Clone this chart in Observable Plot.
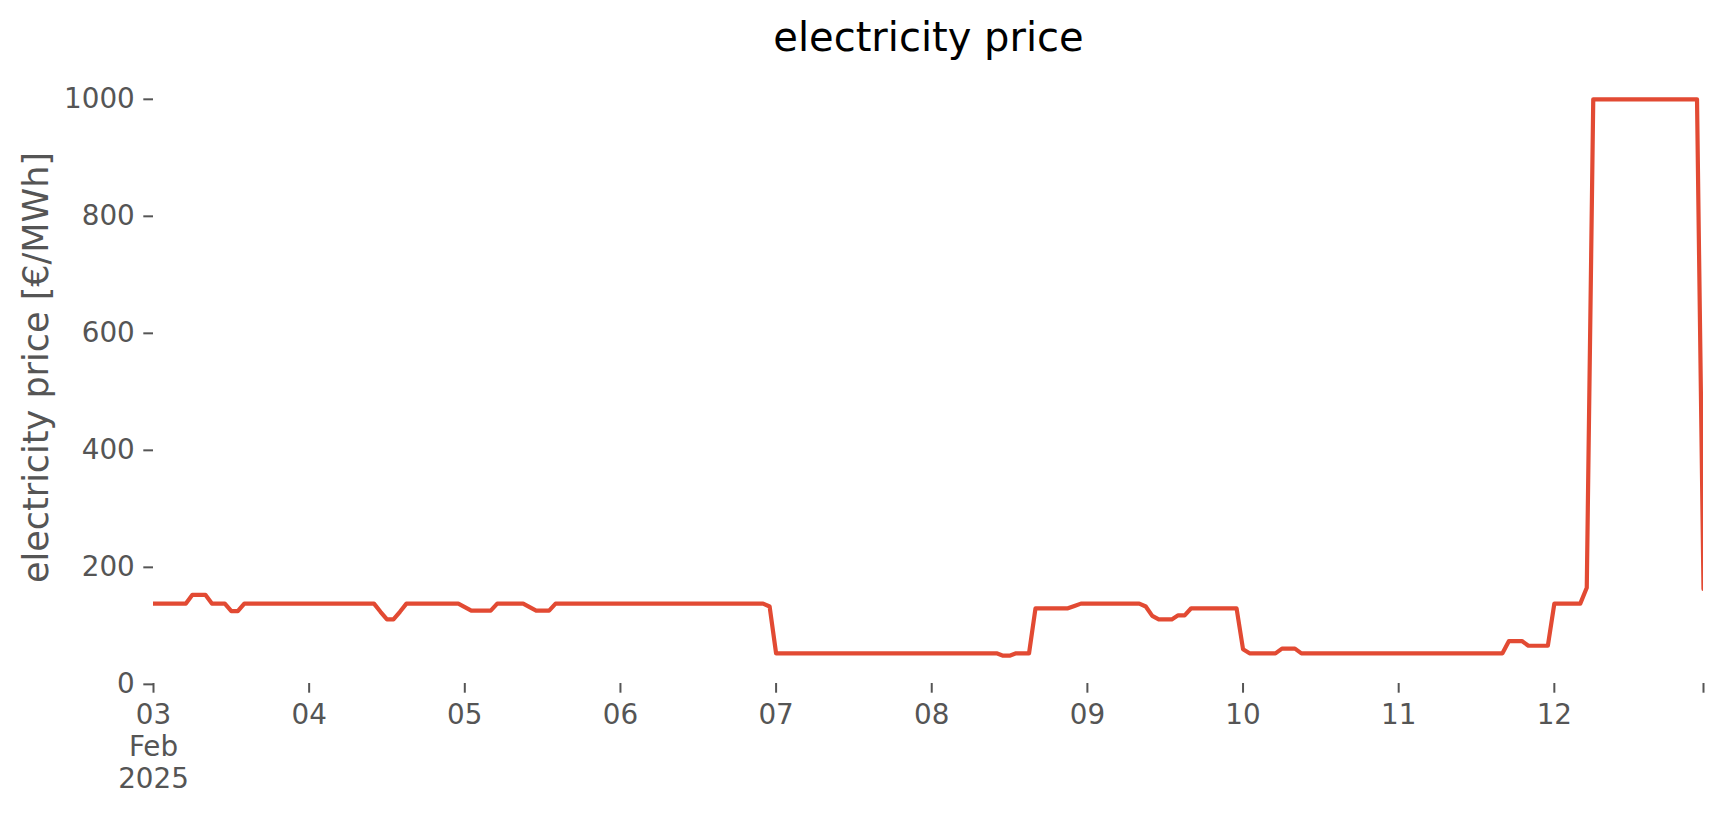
<!DOCTYPE html>
<html><head><meta charset="utf-8">
<script src="https://cdn.jsdelivr.net/npm/d3@7"></script>
<script src="https://cdn.jsdelivr.net/npm/@observablehq/plot@0.6"></script>
<style>
html,body{margin:0;padding:0;background:#fff;overflow:hidden}
#chart{width:1724px;height:815px}
</style></head><body><div id="chart"></div>
<script>
// hourly electricity price [€/MWh], one array per day, starting 03 Feb 2025 00:00 UTC
const priceFeb03 = [138,138,138,138,138,138,153,153,153,138,138,138,125,125,138,138,138,138,138,138,138,138,138,138];
const priceFeb04 = [138,138,138,138,138,138,138,138,138,138,138,124,111,111,124,138,138,138,138,138,138,138,138,138];
const priceFeb05 = [132,126,126,126,126,138,138,138,138,138,132,126,126,126,138,138,138,138,138,138,138,138,138,138];
const priceFeb06 = [138,138,138,138,138,138,138,138,138,138,138,138,138,138,138,138,138,138,138,138,138,138,138,133];
const priceFeb07 = [53,53,53,53,53,53,53,53,53,53,53,53,53,53,53,53,53,53,53,53,53,53,53,53];
const priceFeb08 = [53,53,53,53,53,53,53,53,53,53,53,49,49,53,53,53,130,130,130,130,130,130,134,138];
const priceFeb09 = [138,138,138,138,138,138,138,138,138,133,117,111,111,111,118,118,130,130,130,130,130,130,130,130];
const priceFeb10 = [60,53,53,53,53,53,61,61,61,53,53,53,53,53,53,53,53,53,53,53,53,53,53,53];
const priceFeb11 = [53,53,53,53,53,53,53,53,53,53,53,53,53,53,53,53,53,74,74,74,66,66,66,66];
const priceFeb12 = [138,138,138,138,138,165,1000,1000,1000,1000,1000,1000,1000,1000,1000,1000,1000,1000,1000,1000,1000,1000,1000,163];

const dayTickLabels = ["03\nFeb\n2025","04","05","06","07","08","09","10","11","12"];
const yTicks = [0,200,400,600,800,1000];
const chartTitle = "electricity price";
const yLabel = "electricity price [€/MWh]";
</script>
<script>
const prices = [].concat(priceFeb03,priceFeb04,priceFeb05,priceFeb06,priceFeb07,priceFeb08,priceFeb09,priceFeb10,priceFeb11,priceFeb12);
const t0 = Date.UTC(2025,1,3,0,0);
const data = prices.map((v,i)=>({time:new Date(t0+i*3600e3), price:v}));
const lastTime = data[data.length-1].time;
const dayTicks = dayTickLabels.map((_,i)=>new Date(t0+i*86400e3));
const xTicks = dayTicks.concat([lastTime]);
const xLabels = dayTickLabels.concat([""]);

const font = "DejaVu Sans";
const grey = "#555555";

const chart = Plot.plot({
  width:1724, height:815,
  marginLeft:153, marginRight:21, marginTop:71, marginBottom:132,
  style:{fontFamily:font, background:"#fff", overflow:"visible"},
  x:{type:"utc", domain:[new Date(t0), lastTime]},
  y:{domain:[1.45,1047.55]},
  marks:[
    Plot.axisY({ticks:yTicks, tickSize:9.7, tickPadding:9, fontSize:27.8, color:grey, strokeWidth:2, label:null, tickFormat:d=>String(d)}),
    Plot.axisX({ticks:xTicks, tickSize:9.7, tickPadding:8, fontSize:27.8, color:grey, strokeWidth:2, label:null, lineHeight:1.15,
      tickFormat:(d)=>xLabels[xTicks.findIndex(t=>+t===+d)]}),
    Plot.line(data,{x:"time", y:"price", stroke:"#E24A33", strokeWidth:4.2, clip:true}),
    Plot.text([chartTitle],{frameAnchor:"top", dy:-33, lineAnchor:"middle", fontSize:40, fill:"#000", fontFamily:font}),
    Plot.text([yLabel],{frameAnchor:"left", dx:-117, dy:-10, rotate:-90, textAnchor:"middle", lineAnchor:"middle", fontSize:35, fill:grey, fontFamily:font})
  ]
});
document.getElementById("chart").appendChild(chart);
</script>
</body></html>
